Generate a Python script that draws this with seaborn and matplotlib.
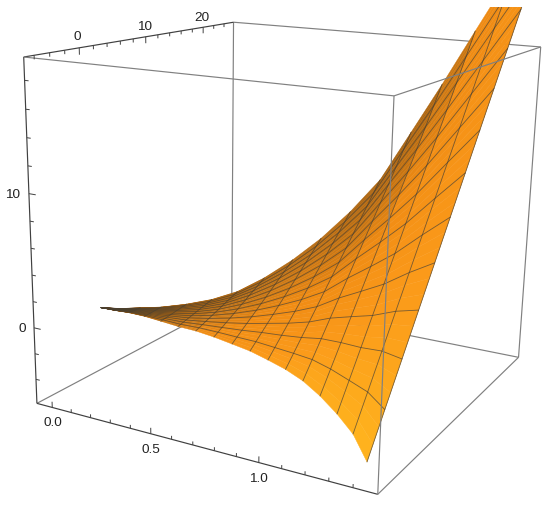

import numpy as np, matplotlib
matplotlib.use('Agg')
import matplotlib.pyplot as plt
from matplotlib.patches import Rectangle
from mpl_toolkits.mplot3d import Axes3D, proj3d
import seaborn as sns

sns.set_style('white')
plt.rcParams['font.family'] = ['Liberation Sans', 'DejaVu Sans']

# values: one straight ruling per x level, running from
# the lower rim of the sheet (y_low, z_low) to its upper rim (y_high, z_high)
x_levels = np.array([0, .0875, .175, .2625, .35, .4375, .525, .6125, .7, .7875, .875, .9625, 1.05, 1.1375, 1.225, 1.3125, 1.4])
y_low = np.array([0, -.35, -.7, -.95, -1.1, -1.15, -1.15, -1.13, -1.15, -1.24, -1.4, -1.65, -2.0, -2.44, -2.96, -3.71, -4.87])
z_low = np.array([0, .14, .33, .4, .35, .25, .2, .03, -.19, -.39, -.7, -1.01, -1.43, -2.07, -2.87, -3.72, -4.95])
y_high = np.array([0, .5, 1, 1.65, 3.0, 4.4, 5.8, 7.5, 9.5, 11.5, 13.7, 16, 18.5, 21, 24, 29, 35])
z_high = np.array([0, .1, .31, .49, .67, .98, 1.54, 2.5, 3.75, 5.28, 7.2, 9.52, 13.07, 16.65, 20.62, 25.4, 30.56])
cross_lines = 13      # mesh intervals along each ruling
x_major = [0.0, 0.5, 1.0]
y_major = [0, 10, 20]
z_major = [0, 10]
x_minor = [.1, .2, .3, .4, .6, .7, .8, .9, 1.1, 1.2, 1.3, 1.4]
y_minor = [-6, -4, -2, 2, 4, 6, 8, 12, 14, 16, 18, 22, 24]
z_minor = [-4, -2, 2, 4, 6, 8, 12, 14, 16, 18]
XL = (-.082, 1.5); YL = (-7.3, 25.9); ZL = (-5.9, 19.6)

W, H = 550, 506
ELEV, AZIM, ROLL, FOCAL = 15.261, -61.757, -1.145, 0.382
ASPECT = (1.082, 1.08, 1)
S, OX, OY = 3249.27, 294.34, 222.25

fig = plt.figure(figsize=(W/100, H/100), dpi=100)
ax = fig.add_axes([0, 0, 1, 1], projection='3d', computed_zorder=False)
ax.view_init(ELEV, AZIM, ROLL)
ax.set_proj_type('persp', focal_length=FOCAL)
ax.set_box_aspect(ASPECT)
ax.set_xlim(*XL); ax.set_ylim(*YL); ax.set_zlim(*ZL)
x0, x1 = ax.viewLim.intervalx; y0, y1 = ax.viewLim.intervaly
SP = S*(x1-x0)
ax.set_position([(OX+S*x0)/W, (H-OY+S*y0)/H, SP/W, SP/H])
ax.set_axis_off()

SUB = 3
vf = np.linspace(0, 1, cross_lines*SUB+1)
X = np.outer(x_levels, np.ones_like(vf))
Y = np.outer(y_low, 1-vf)+np.outer(y_high, vf)
Z = np.outer(z_low, 1-vf)+np.outer(z_high, vf)

# shading: facing ratio toward the camera, warmed toward the lower rim
e, a = np.radians(ELEV), np.radians(AZIM)
cam = np.array([np.cos(e)*np.cos(a), np.cos(e)*np.sin(a), np.sin(e)])
sc = np.array([ASPECT[0]/(XL[1]-XL[0]), ASPECT[1]/(YL[1]-YL[0]), ASPECT[2]/(ZL[1]-ZL[0])])
P = np.stack([X*sc[0], Y*sc[1], Z*sc[2]], -1)
du = P[1:, :-1]-P[:-1, :-1]; dv = P[:-1, 1:]-P[:-1, :-1]
n = np.cross(du, dv); n = n/np.maximum(np.linalg.norm(n, axis=-1, keepdims=True), 1e-9)
T = np.clip(np.abs(n@cam)/.8, 0, 1)**.8
for _ in range(2):
    T[1:-1] = (T[:-2]+2*T[1:-1]+T[2:])/4
uu = (x_levels[:-1]/x_levels[-1])[:, None]
vv = vf[:-1][None, :]
t = T*(.6+.4*(1-vv)**3*uu)
cm = sns.blend_palette(['#6b3c0c', '#a8620f', '#f08c14', '#fb9a1a', '#ffb41e'], as_cmap=True)
fc = cm(np.clip(t, 0, 1))

corners = [(XL[0], YL[0]), (XL[1], YL[0]), (XL[1], YL[1]), (XL[0], YL[1])]
GR = '#808080'; DK = '#404040'; LW = .85
LO, HI = ZL
A = lambda i, z: (corners[i][0], corners[i][1], z)
def seg(p, q, c=GR, lw=LW, z=4):
    ax.plot([p[0], q[0]], [p[1], q[1]], [p[2], q[2]], color=c, lw=lw, zorder=z, solid_capstyle='butt')

# box edges behind the surface
seg(A(3, LO), A(3, HI), z=1); seg(A(0, LO), A(3, LO), z=1); seg(A(2, LO), A(3, LO), z=1); seg(A(3, HI), A(2, HI), z=1)

surf = ax.plot_surface(X, Y, Z, facecolors=fc, shade=False, linewidth=.3, rstride=1, cstride=1, zorder=2)
clip = Rectangle((0, 0), W, H-8, transform=None)
surf.set_clip_path(clip)
MC = '#4a4030'
for i in range(1, len(x_levels)):
    l, = ax.plot(X[i], Y[i], Z[i], color=MC, alpha=.75, lw=.6, zorder=3); l.set_clip_path(clip)
for j in range(SUB, cross_lines*SUB, SUB):
    l, = ax.plot(X[:, j], Y[:, j], Z[:, j], color=MC, alpha=.75, lw=.6, zorder=3); l.set_clip_path(clip)

# box edges in front
seg(A(0, LO), A(1, LO), DK); seg(A(0, LO), A(0, HI), DK); seg(A(0, HI), A(3, HI), DK)
seg(A(1, LO), A(2, LO)); seg(A(1, LO), A(1, HI)); seg(A(2, LO), A(2, HI)); seg(A(0, HI), A(1, HI)); seg(A(1, HI), A(2, HI))

# ticks
for vals, kz in ((x_major, .45), (x_minor, .26)):
    for v in vals: seg((v, YL[0], LO), (v, YL[0], LO+kz), DK, .7)
for vals, kz in ((y_major, .5), (y_minor, .28)):
    for v in vals: seg((XL[0], v, HI), (XL[0], v, HI-kz), DK, .7)
for vals, kx in ((z_major, .035), (z_minor, .02)):
    for v in vals: seg((XL[0], YL[0], v), (XL[0]+kx, YL[0], v), DK, .7)

# labels, placed at their projected 3D positions
FS = 9.7; TC = '#222222'
M = ax.get_proj()
def label(x, y, z, s, ha='center'):
    xp, yp, _ = proj3d.proj_transform(x, y, z, M)
    ax.text2D(xp, yp, s, transform=ax.transData, ha=ha, va='center', fontsize=FS, color=TC, zorder=5)
for v in x_major:
    label(v, YL[0], LO-1.15, f'{v:.1f}')
for v in y_major:
    label(XL[0], v-.25, HI+.85, f'{v}')
for v in z_major:
    label(XL[0]-.045, YL[0], v-.15, f'{v}', ha='right')

fig.savefig('out.png', dpi=100)
